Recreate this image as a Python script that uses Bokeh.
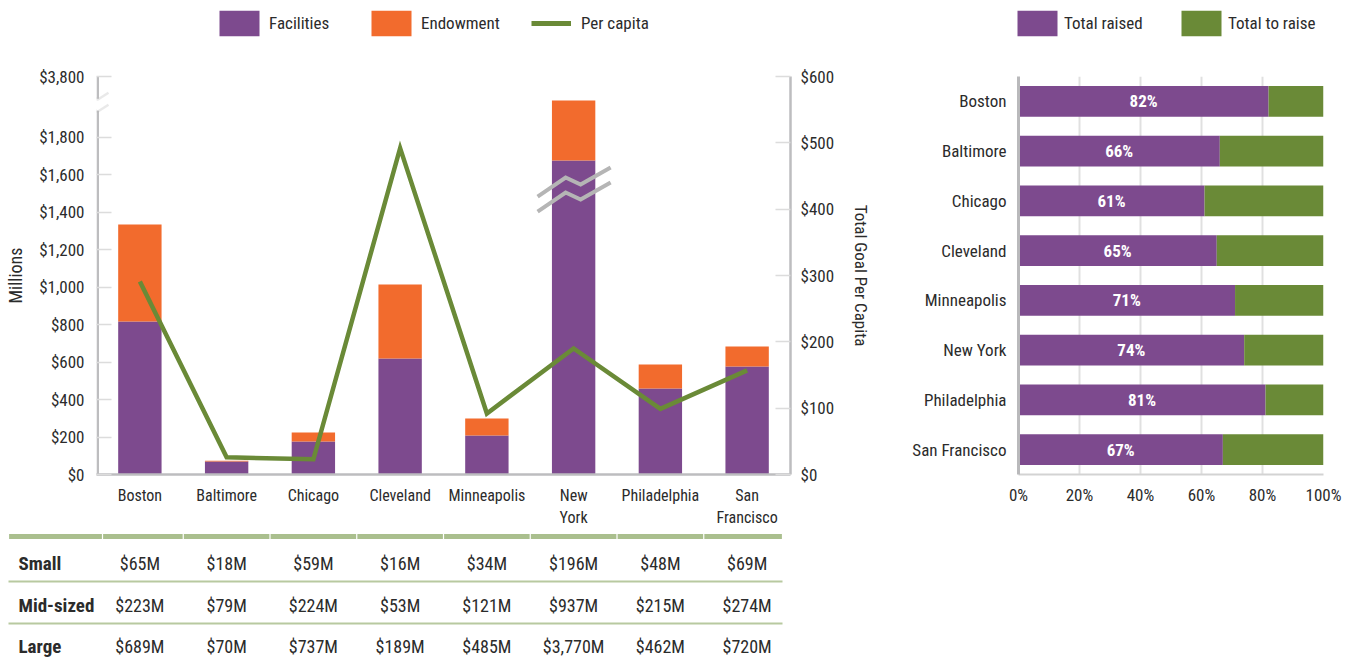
import math
from bokeh.plotting import figure
from bokeh.models import (Range1d, LinearAxis, FixedTicker, Legend, LegendItem,
                          PolyAnnotation, FactorRange, ColumnDataSource)
from bokeh.layouts import row, column
from bokeh.embed import file_html
from bokeh.resources import INLINE
from bokeh.core.properties import value

# ---------------- data ----------------
cities = ["Boston", "Baltimore", "Chicago", "Cleveland", "Minneapolis",
          "New York", "Philadelphia", "San Francisco"]
city_tick_labels = ["Boston", "Baltimore", "Chicago", "Cleveland", "Minneapolis",
                    "New\nYork", "Philadelphia", "San\nFrancisco"]
facilities = [816, 69, 176, 619, 208, 1675, 459, 576]      # $M
endowment = [517, 5, 48, 394, 91, 1332, 128, 107]          # $M
per_capita = [291, 26, 23, 492, 92, 190, 99, 157]          # $
left_ticks = [0, 200, 400, 600, 800, 1000, 1200, 1400, 1600, 1800]
left_top_tick = 3800
right_ticks = [0, 100, 200, 300, 400, 500, 600]

row_names = ["Small", "Mid-sized", "Large"]
small_orgs = ["$65M", "$18M", "$59M", "$16M", "$34M", "$196M", "$48M", "$69M"]
mid_orgs = ["$223M", "$79M", "$224M", "$53M", "$121M", "$937M", "$215M", "$274M"]
large_orgs = ["$689M", "$70M", "$737M", "$189M", "$485M", "$3,770M", "$462M", "$720M"]

pct_raised = [82, 66, 61, 65, 71, 74, 81, 67]
pct_ticks = [0, 20, 40, 60, 80, 100]

# ---------------- style ----------------
FONT = "Roboto Condensed, DejaVu Sans Condensed, Roboto"
TXT = "#2b2b2b"
PURPLE = "#7D4A8E"
ORANGE = "#F26B2D"
GREEN = "#6A8A37"
AXIS_GRAY = "#bdbdbf"
TICK_GRAY = "#dcdcdc"
BREAK_GRAY = "#b5b5b5"
TABLE_GREEN = "#AABF8E"
NAN = math.nan

# broken axis: values above BREAK are compressed
BREAK = 1800
K = 323 / 2000.0


def disp(v):
    return v if v <= BREAK else BREAK + (v - BREAK) * K


TOTAL_W = 1352
H_STRIP = 58
H_MAIN = 472
H_T = 130

# ---------------- left chart ----------------
W_L = 878
MB_L, MB_R, MB_T, MB_B = 96, 88, 18, 56
FRAME_W = W_L - MB_L - MB_R
FRAME_H = H_MAIN - MB_T - MB_B
n = len(cities)
xs = [i + 0.5 for i in range(n)]
Y_TOP = disp(left_top_tick)
PX_X = FRAME_W / n          # px per x unit
PX_Y = FRAME_H / Y_TOP      # px per y unit

p = figure(width=W_L, height=H_MAIN, x_range=Range1d(0, n), y_range=Range1d(0, Y_TOP),
           output_backend="svg", toolbar_location=None,
           min_border_left=MB_L, min_border_right=MB_R,
           min_border_top=MB_T, min_border_bottom=MB_B)
p.outline_line_color = None
p.xgrid.visible = False
p.ygrid.visible = False
p.extra_y_ranges = {"pc": Range1d(0, 600)}

src = ColumnDataSource(dict(
    x=xs,
    fac_top=[disp(f) for f in facilities],
    tot_top=[disp(f + e) for f, e in zip(facilities, endowment)],
    pc=per_capita,
))
p.vbar(x="x", width=0.5, bottom=0, top="fac_top", source=src,
       fill_color=PURPLE, line_color=None)
p.vbar(x="x", width=0.5, bottom="fac_top", top="tot_top", source=src,
       fill_color=ORANGE, line_color=None)

# break marks over the New York bar
ny = cities.index("New York")
brk_y = disp(1520)
up = [(-36, 7), (-8, -12), (7, -5), (37, -22)]
for off in (0, 15):
    p.line([xs[ny] + dx / PX_X for dx, dy in up],
           [brk_y - (dy + off) / PX_Y for dx, dy in up],
           line_color=BREAK_GRAY, line_width=4, line_join="miter")

p.line("x", "pc", source=src, y_range_name="pc", line_color=GREEN,
       line_width=4.5, line_join="miter")


def style_axis(ax, size="17px", label_size="17px"):
    ax.major_label_text_font = FONT
    ax.major_label_text_font_size = size
    ax.major_label_text_color = TXT
    ax.axis_label_text_font = FONT
    ax.axis_label_text_font_size = label_size
    ax.axis_label_text_font_style = "normal"
    ax.axis_label_text_color = TXT
    ax.minor_tick_line_color = None


yax = p.yaxis[0]
style_axis(yax, "17px", "18px")
yax.ticker = FixedTicker(ticks=left_ticks + [Y_TOP])
ov = {t: "${:,}".format(t) for t in left_ticks}
ov[Y_TOP] = "${:,}".format(left_top_tick)
yax.major_label_overrides = ov
yax.axis_label = "Millions"
yax.axis_label_standoff = 10
yax.major_label_standoff = 12
yax.major_tick_in = 15
yax.major_tick_out = 0
yax.major_tick_line_color = TICK_GRAY
yax.major_tick_line_width = 1.5
yax.axis_line_color = None   # drawn below as a broken line

rax = LinearAxis(y_range_name="pc", ticker=FixedTicker(ticks=right_ticks),
                 axis_label="Total Goal Per Capita")
style_axis(rax, "17px", "17px")
rax.major_label_overrides = {t: "${:,}".format(t) for t in right_ticks}
rax.major_label_standoff = 10
rax.axis_label_standoff = 14
rax.major_tick_in = 15
rax.major_tick_out = 0
rax.major_tick_line_color = TICK_GRAY
rax.major_tick_line_width = 1.5
rax.axis_line_color = AXIS_GRAY
rax.axis_line_width = 2.5
p.add_layout(rax, "right")

xax = p.xaxis[0]
style_axis(xax, "16px")
xax.ticker = FixedTicker(ticks=xs)
xax.major_label_overrides = {x: lab for x, lab in zip(xs, city_tick_labels)}
xax.major_tick_in = 0
xax.major_tick_out = 0
xax.major_label_standoff = 11
xax.axis_line_color = AXIS_GRAY
xax.axis_line_width = 2.5

# left axis line with a break
brk_axis = (1800 + Y_TOP) / 2 + 8 / PX_Y
ax_x = 1.25 / PX_X
p.segment(x0=[ax_x, ax_x], y0=[0, brk_axis], x1=[ax_x, ax_x],
          y1=[brk_axis - 12 / PX_Y, Y_TOP], line_color=AXIS_GRAY, line_width=2.5)
zig = [(-12, 3), (-3, -2), (1, 1), (12, -6)]
band_top = [(dx / PX_X, brk_axis - dy / PX_Y) for dx, dy in zig]
band_bot = [(dx / PX_X, brk_axis - (dy + 12) / PX_Y) for dx, dy in zig]
for band in (band_top, band_bot):
    path = band + band[-2:0:-1]
    p.add_layout(PolyAnnotation(xs=[a for a, b in path], ys=[b for a, b in path],
                                fill_alpha=0, line_color=BREAK_GRAY, line_width=2.5))

# ---------------- right chart ----------------
W_R = TOTAL_W - W_L
Q_ML, Q_FW = 140, 305
q = figure(width=W_R, height=H_MAIN, x_range=Range1d(0, 100),
           y_range=FactorRange(factors=list(reversed(cities))),
           output_backend="svg", toolbar_location=None,
           min_border_left=Q_ML, min_border_right=W_R - Q_ML - Q_FW,
           min_border_top=17, min_border_bottom=56)
q.outline_line_color = None
q.ygrid.visible = False
q.xgrid.ticker = FixedTicker(ticks=pct_ticks)
q.xgrid.grid_line_color = "#e0e0e0"
q.xgrid.grid_line_width = 2

rsrc = ColumnDataSource(dict(city=cities, raised=pct_raised,
                             mid=[r / 2 for r in pct_raised],
                             lab=["{}%".format(r) for r in pct_raised],
                             full=[100] * n))
q.hbar(y="city", left=0, right="raised", height=0.62, source=rsrc,
       fill_color=PURPLE, line_color=None)
q.hbar(y="city", left="raised", right="full", height=0.62, source=rsrc,
       fill_color=GREEN, line_color=None)
q.text(x="mid", y="city", text="lab", source=rsrc, text_align="center",
       text_baseline="middle", text_font=value(FONT), text_font_size="17px",
       text_font_style="bold", text_color="white")

qy = q.yaxis[0]
style_axis(qy)
qy.major_tick_in = 0
qy.major_tick_out = 0
qy.major_label_standoff = 12
qy.axis_line_color = "#b9b9bb"
qy.axis_line_width = 3

qx = q.xaxis[0]
style_axis(qx)
qx.ticker = FixedTicker(ticks=pct_ticks)
qx.major_label_overrides = {v: "{}%".format(v) for v in pct_ticks}
qx.major_tick_in = 0
qx.major_tick_out = 0
qx.major_label_standoff = 10
qx.axis_line_color = "#d3d3d3"
qx.axis_line_width = 2

# ---------------- legend strip ----------------
s = figure(width=TOTAL_W, height=H_STRIP, x_range=Range1d(0, TOTAL_W),
           y_range=Range1d(0, H_STRIP), output_backend="svg", toolbar_location=None,
           min_border=0, x_axis_location=None, y_axis_location=None)
s.outline_line_color = None
s.xgrid.visible = False
s.ygrid.visible = False
# legend-only renderers (no visible data)
lg_fac = s.vbar(x=[NAN], top=[NAN], width=1, fill_color=PURPLE, line_color=None)
lg_end = s.vbar(x=[NAN], top=[NAN], width=1, fill_color=ORANGE, line_color=None)
lg_pc = s.line(x=[NAN, NAN], y=[NAN, NAN], line_color=GREEN, line_width=5)
lg_raised = s.vbar(x=[NAN], top=[NAN], width=1, fill_color=PURPLE, line_color=None)
lg_toraise = s.vbar(x=[NAN], top=[NAN], width=1, fill_color=GREEN, line_color=None)

legend_entries = [
    ("Facilities", lg_fac, 214, 50, 5),
    ("Endowment", lg_end, 366, 50, 5),
    ("Per capita", lg_pc, 531, 40, 10),
    ("Total raised", lg_raised, 1012, 50, 2),
    ("Total to raise", lg_toraise, 1176, 50, 2),
]
for lab, rend, x0, gw, so in legend_entries:
    s.add_layout(Legend(items=[LegendItem(label=lab, renderers=[rend])],
                        orientation="horizontal", location=(x0, 19),
                        glyph_width=gw, glyph_height=32, label_standoff=so,
                        padding=0, margin=0, border_line_color=None,
                        background_fill_alpha=0, label_text_font=FONT,
                        label_text_font_size="17px", label_text_color=TXT))

# ---------------- table below ----------------
t = figure(width=TOTAL_W, height=H_T,
           x_range=Range1d(-MB_L / PX_X, (TOTAL_W - MB_L) / PX_X), y_range=Range1d(H_T, 0),
           output_backend="svg", toolbar_location=None, min_border=0,
           x_axis_location=None, y_axis_location=None)
t.outline_line_color = None
t.xgrid.visible = False
t.ygrid.visible = False

line_start = -88 / PX_X
line_end = n - 8 / PX_X
bounds = [line_start, 6 / PX_X] + [i for i in range(1, n)] + [line_end]
g = 0.6 / PX_X
t.segment(x0=[b + g for b in bounds[:-1]], y0=[6] * (len(bounds) - 1),
          x1=[b - g for b in bounds[1:]], y1=[6] * (len(bounds) - 1),
          line_color=TABLE_GREEN, line_width=5)
t.segment(x0=[line_start] * 2, y0=[51, 93], x1=[line_end] * 2, y1=[51, 93],
          line_color="#B8C9A0", line_width=2)

row_y = [33, 75, 116]
for ry, vals in zip(row_y, [small_orgs, mid_orgs, large_orgs]):
    t.text(x=xs, y=[ry] * n, text=vals, text_align="center", text_baseline="middle",
           text_font=value(FONT), text_font_size="18px", text_color=TXT)
t.text(x=[-78 / PX_X] * 3, y=row_y, text=row_names, text_align="left",
       text_baseline="middle", text_font=value(FONT), text_font_size="19px",
       text_font_style="bold", text_color=TXT)

layout = column(s, row(p, q), t)
open("out.html", "w").write(file_html(layout, INLINE))
